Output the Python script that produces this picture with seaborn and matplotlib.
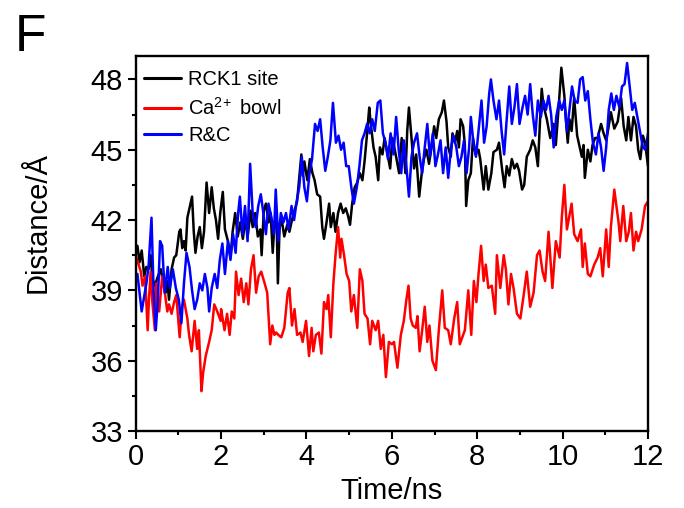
import matplotlib
matplotlib.use('Agg')
import matplotlib.pyplot as plt
from matplotlib.ticker import MultipleLocator
import seaborn as sns

# RCK1 site (black)
rck1_t = [0.00, 0.04, 0.09, 0.14, 0.20, 0.25, 0.30, 0.35, 0.39, 0.45, 0.52, 0.59, 0.64, 0.70, 0.74, 0.78,
          0.84, 0.90, 0.95, 1.02, 1.05, 1.09, 1.13, 1.17, 1.21, 1.27, 1.32, 1.36, 1.40, 1.45, 1.50, 1.55,
          1.60, 1.66, 1.72, 1.78, 1.83, 1.88, 1.93, 1.98,
          2.04, 2.09, 2.16, 2.22, 2.27, 2.33, 2.39, 2.45, 2.51, 2.56, 2.63, 2.69, 2.74, 2.80, 2.86, 2.92,
          2.95, 3.00, 3.05, 3.11, 3.16, 3.21, 3.25, 3.30, 3.33, 3.37, 3.42, 3.48, 3.55, 3.60, 3.66, 3.72,
          3.78, 3.84, 3.88, 3.91, 3.95,
          4.02, 4.08, 4.14, 4.19, 4.25, 4.32, 4.37, 4.41, 4.47, 4.53, 4.57, 4.63, 4.68, 4.74, 4.80, 4.86,
          4.92, 4.97, 5.02, 5.07, 5.13, 5.19, 5.25, 5.31, 5.36, 5.41, 5.47, 5.50, 5.57, 5.62, 5.68, 5.72,
          5.78, 5.83, 5.89, 5.96,
          6.01, 6.09, 6.17, 6.23, 6.28, 6.32, 6.36, 6.40, 6.46, 6.52, 6.57, 6.64, 6.70, 6.75, 6.81, 6.87,
          6.93, 6.99, 7.04, 7.10, 7.17, 7.22, 7.28, 7.32, 7.38, 7.42, 7.48, 7.53, 7.57, 7.61, 7.67, 7.71,
          7.74, 7.79, 7.85, 7.90, 7.96,
          8.03, 8.07, 8.15, 8.20, 8.26, 8.33, 8.38, 8.46, 8.51, 8.58, 8.64, 8.69, 8.75, 8.81, 8.87, 8.93,
          8.98, 9.05, 9.10, 9.16, 9.24, 9.30, 9.36, 9.42, 9.48, 9.51, 9.55, 9.63, 9.71, 9.79, 9.84, 9.91,
          9.97, 10.04, 10.08, 10.12, 10.16, 10.21, 10.27, 10.34, 10.39, 10.45, 10.49, 10.52, 10.59, 10.65,
          10.70, 10.76, 10.82, 10.90, 10.96, 11.02, 11.07, 11.13, 11.21, 11.29, 11.37, 11.43, 11.49, 11.54,
          11.60, 11.66, 11.72, 11.77, 11.82, 11.88, 11.93, 12.00]
rck1_d = [40.6, 40.9, 40.2, 40.7, 39.6, 40.0, 39.9, 40.5, 39.5, 39.2, 39.6, 39.9, 39.3, 38.9, 39.4, 38.6,
          39.9, 40.4, 40.5, 41.5, 41.6, 40.8, 41.1, 40.7, 42.1, 42.6, 43.0, 41.5, 40.6, 41.3, 41.7, 40.8,
          41.5, 43.6, 42.3, 43.4, 42.5, 42.0, 41.2, 42.3,
          43.2, 41.6, 41.1, 40.4, 41.5, 42.3, 41.3, 41.9, 41.2, 41.9, 41.4, 42.4, 41.7, 42.3, 41.3, 41.6,
          40.5, 42.4, 42.7, 41.9, 42.3, 40.6, 41.9, 42.1, 39.3, 41.7, 42.0, 41.3, 41.8, 41.5, 42.0, 42.4,
          42.8, 44.0, 44.8, 43.9, 44.5,
          43.7, 44.6, 44.0, 43.7, 43.1, 43.0, 41.7, 41.2, 41.9, 42.7, 41.7, 42.3, 41.5, 42.3, 42.7, 42.3,
          42.5, 42.2, 41.8, 42.7, 43.4, 43.6, 44.0, 43.7, 44.5, 45.5, 46.8, 46.2, 45.1, 44.7, 43.7, 45.1,
          44.8, 45.5, 44.9, 44.2,
          45.5, 44.8, 44.0, 45.5, 44.8, 44.0, 45.8, 46.8, 45.5, 44.2, 44.8, 43.0, 44.0, 44.6, 45.0, 44.4,
          45.1, 46.0, 45.5, 46.3, 46.6, 47.1, 46.2, 45.1, 44.7, 45.7, 45.3, 45.8, 45.1, 46.3, 46.0, 45.2,
          42.6, 43.7, 44.0, 45.5, 44.8,
          45.0, 44.6, 43.3, 44.3, 43.3, 44.0, 44.9, 45.0, 45.3, 44.2, 43.4, 44.3, 43.9, 44.6, 44.2, 44.4,
          44.1, 43.3, 43.5, 44.7, 45.0, 45.4, 45.1, 44.3, 46.6, 47.6, 46.9, 46.3, 45.5, 46.1, 45.2, 46.9,
          48.5, 47.3, 46.2, 45.3, 46.3, 45.8, 47.2, 45.6, 45.2, 44.7, 45.2, 43.8, 45.0, 44.5,
          45.2, 45.5, 45.5, 46.1, 45.7, 45.4, 45.9, 46.6, 45.9, 46.2, 47.2, 46.0, 45.4, 46.4,
          45.4, 46.4, 46.0, 45.0, 44.6, 45.6, 45.3, 44.3]

# Ca2+ bowl (red)
bowl_t = [0.00, 0.12, 0.16, 0.22, 0.28, 0.31, 0.35, 0.39, 0.45, 0.48, 0.55, 0.62, 0.69, 0.74, 0.78, 0.84,
          0.90, 0.95, 1.03, 1.08, 1.13, 1.21, 1.25, 1.31, 1.38, 1.44, 1.48, 1.54, 1.58, 1.64, 1.72, 1.78,
          1.84, 1.91, 1.99,
          2.00, 2.08, 2.14, 2.20, 2.25, 2.31, 2.35, 2.41, 2.47, 2.53, 2.59, 2.64, 2.70, 2.76, 2.82, 2.88,
          2.94, 3.02, 3.08, 3.15, 3.20, 3.25, 3.29, 3.34, 3.41, 3.48, 3.56, 3.60, 3.66, 3.72, 3.78, 3.86,
          3.91, 3.99,
          4.06, 4.12, 4.16, 4.22, 4.29, 4.35, 4.41, 4.47, 4.51, 4.57, 4.63, 4.68, 4.74, 4.79, 4.82, 4.88,
          4.94, 5.00, 5.05, 5.11, 5.19, 5.25, 5.31, 5.36, 5.43, 5.49, 5.54, 5.62, 5.68, 5.74, 5.80, 5.86,
          5.93, 6.00,
          6.05, 6.13, 6.21, 6.28, 6.34, 6.39, 6.44, 6.49, 6.56, 6.60, 6.65, 6.71, 6.77, 6.83, 6.88, 6.95,
          7.03, 7.10, 7.18, 7.24, 7.32, 7.38, 7.46, 7.53, 7.59, 7.65, 7.71, 7.79, 7.86, 7.92, 7.98, 8.03,
          8.09, 8.15, 8.20, 8.26, 8.34, 8.42, 8.46, 8.54, 8.62, 8.67, 8.73, 8.79, 8.85, 8.93, 9.01, 9.08,
          9.16, 9.24, 9.32, 9.40, 9.46, 9.53, 9.59, 9.67, 9.76, 9.84, 9.93, 9.98, 10.04, 10.10,
          10.21, 10.27, 10.35, 10.43, 10.47, 10.52, 10.59, 10.65, 10.74, 10.82, 10.88, 10.94, 11.02,
          11.08, 11.13, 11.21, 11.31, 11.35, 11.42, 11.49, 11.55, 11.60, 11.66, 11.72, 11.77, 11.85,
          11.93, 12.00]
bowl_d = [40.5, 39.8, 39.2, 39.6, 37.3, 38.6, 39.8, 38.5, 37.3, 39.3, 38.1, 39.6, 38.8, 38.1, 38.4, 38.0,
          38.5, 38.8, 37.0, 38.3, 38.6, 37.8, 37.1, 36.4, 37.7, 36.5, 37.3, 34.7, 35.5, 36.2, 36.8, 37.3,
          38.4, 38.1, 37.7,
          38.2, 37.3, 38.0, 37.1, 38.1, 37.8, 39.8, 38.8, 39.5, 38.5, 39.3, 38.4, 39.9, 40.5, 38.9, 39.6,
          39.8, 39.3, 38.9, 36.7, 37.5, 37.1, 37.2, 37.1, 37.0, 37.4, 38.9, 39.1, 37.5, 38.2, 37.1, 37.2,
          36.8, 37.7,
          36.2, 37.4, 36.4, 37.1, 37.2, 36.3, 38.5, 38.2, 38.8, 37.0, 39.3, 40.5, 41.7, 40.4, 41.2, 40.5,
          39.7, 39.4, 38.1, 38.8, 37.4, 39.9, 39.4, 38.0, 37.8, 36.7, 37.7, 37.3, 37.7, 36.5, 37.1, 35.3,
          36.8, 36.7,
          36.8, 35.7, 37.1, 37.7, 38.6, 39.2, 37.8, 37.5, 37.4, 37.9, 36.4, 37.3, 38.3, 36.8, 37.5, 36.0,
          35.6, 37.3, 39.0, 37.4, 37.3, 36.7, 37.8, 38.5, 36.7, 37.0, 37.3, 39.0, 37.1, 39.4, 38.5, 39.7,
          40.9, 39.4, 40.1, 39.1, 39.2, 38.0, 40.5, 39.1, 40.5, 39.9, 38.4, 39.7, 39.1, 38.0, 37.8, 38.7,
          39.8, 38.3, 38.9, 40.5, 40.7, 39.8, 39.4, 41.5, 39.1, 41.1, 40.4, 42.1, 43.5, 41.6,
          42.7, 41.4, 41.1, 41.6, 40.0, 41.0, 39.7, 39.6, 40.1, 40.4, 40.8, 39.6, 41.6,
          40.0, 41.7, 43.3, 41.9, 41.1, 42.6, 41.1, 41.5, 42.3, 40.7, 41.5, 41.1, 41.6,
          42.6, 42.8]

# R&C (blue)
rc_t = [0.00, 0.04, 0.09, 0.14, 0.25, 0.30, 0.37, 0.42, 0.47, 0.52, 0.57, 0.62, 0.68, 0.75, 0.80, 0.87,
        0.94, 1.01, 1.07, 1.13, 1.19, 1.26, 1.32, 1.38, 1.44, 1.50, 1.56, 1.62, 1.68, 1.72, 1.78, 1.85,
        1.91, 1.97, 2.03, 2.09, 2.16, 2.22, 2.28, 2.34, 2.40, 2.44, 2.50, 2.56, 2.62, 2.68, 2.74, 2.81,
        2.87, 2.93, 2.99, 3.05, 3.11, 3.18, 3.24, 3.28, 3.34, 3.40, 3.46, 3.52, 3.58, 3.65, 3.71, 3.77,
        3.83, 3.89, 3.95, 4.01, 4.07, 4.13, 4.20, 4.26, 4.32, 4.38, 4.44, 4.50, 4.56, 4.62, 4.69, 4.75,
        4.81, 4.87, 4.93, 4.99, 5.05, 5.11, 5.18, 5.24, 5.30, 5.36, 5.42, 5.48, 5.54, 5.60, 5.67, 5.73,
        5.79, 5.85, 5.91, 5.97, 6.04, 6.10, 6.16, 6.22, 6.28, 6.34, 6.40, 6.46, 6.52, 6.59, 6.65, 6.71,
        6.77, 6.83, 6.89, 6.96, 7.02, 7.08, 7.14, 7.20, 7.26, 7.32, 7.38, 7.44, 7.51, 7.57, 7.63, 7.69,
        7.75, 7.81, 7.85, 7.91, 7.97, 8.04, 8.10, 8.16, 8.22, 8.28, 8.32, 8.38, 8.45, 8.51, 8.57, 8.63,
        8.69, 8.75, 8.81, 8.87, 8.93, 8.99, 9.06, 9.12, 9.18, 9.24, 9.30, 9.36, 9.42, 9.49, 9.55, 9.61,
        9.67, 9.73, 9.79, 9.85, 9.92, 9.98, 10.04, 10.10, 10.16, 10.22, 10.28, 10.35, 10.41, 10.47,
        10.53, 10.59, 10.65, 10.71, 10.78, 10.84, 10.90, 10.96, 11.02, 11.08, 11.14, 11.20, 11.26,
        11.33, 11.39, 11.45, 11.51, 11.57, 11.63, 11.69, 11.75, 11.82, 11.88, 11.94, 12.00]
rc_d = [39.4, 39.7, 38.9, 38.1, 39.3, 40.0, 42.1, 38.9, 37.3, 38.6, 41.1, 40.9, 38.9, 40.0, 39.1, 39.9,
        39.1, 38.6, 37.6, 39.3, 40.6, 40.0, 39.0, 38.2, 38.6, 39.3, 39.0, 39.7, 39.1, 38.1, 39.1, 39.7,
        39.1, 40.3, 41.0, 39.7, 41.1, 40.3, 41.4, 40.6, 42.3, 43.0, 41.4, 42.6, 41.1, 44.4, 42.3, 41.7,
        42.6, 43.1, 42.3, 41.4, 42.7, 42.1, 41.4, 43.3, 41.1, 42.3, 41.9, 42.3, 41.6, 42.6, 42.0, 42.8,
        43.4, 44.7, 43.4, 42.8, 44.0, 44.6, 46.1, 45.8, 46.3, 45.1, 44.1, 44.7, 45.4, 47.0, 45.3, 45.6,
        45.0, 45.3, 44.3, 44.3, 43.4, 42.7, 43.4, 44.3, 45.4, 45.7, 46.1, 45.7, 46.3, 45.8, 47.0, 47.1,
        45.7, 45.3, 44.6, 45.7, 44.8, 46.4, 45.0, 44.0, 45.4, 44.3, 43.0, 44.7, 45.3, 45.7, 44.7, 44.0,
        45.1, 46.1, 44.7, 45.7, 44.3, 44.8, 45.4, 44.0, 45.1, 43.8, 45.0, 45.6, 45.1, 44.3, 44.7, 45.4,
        44.0, 45.1, 46.4, 45.3, 44.7, 46.0, 47.1, 45.3, 46.0, 47.4, 48.0, 47.1, 46.3, 47.1, 45.8, 44.8,
        46.3, 47.7, 46.1, 46.8, 47.8, 46.1, 46.8, 47.3, 46.5, 47.8, 46.5, 45.6, 47.1, 46.4, 47.1, 46.7,
        47.3, 46.5, 45.1, 46.4, 47.1, 46.7, 47.1, 45.8, 46.7, 47.7, 47.1, 47.0, 48.0, 48.1,
        47.1, 47.5, 46.3, 45.3, 44.8, 45.7, 45.1, 44.1, 45.1, 46.7, 47.4, 46.7, 47.3,
        46.8, 47.7, 47.8, 48.7, 47.7, 46.7, 47.0, 46.4, 45.7, 45.1, 45.0, 45.7]

series = [('RCK1 site', rck1_t, rck1_d, 'black'),
          ('Ca$^{2\\!+}$ bowl', bowl_t, bowl_d, 'red'),
          ('R&C', rc_t, rc_d, 'blue')]

sns.set_style('ticks')
plt.rcParams['font.family'] = ['Liberation Sans', 'DejaVu Sans']
plt.rcParams['mathtext.default'] = 'regular'
plt.rcParams.update({'text.color': 'black', 'axes.labelcolor': 'black',
                     'xtick.color': 'black', 'ytick.color': 'black'})

fig = plt.figure(figsize=(6.84, 5.08), dpi=100)
ax = fig.add_axes([0.1984, 0.1516, 0.749, 0.7382])

for name, t, d, c in series:
    sns.lineplot(x=t, y=d, color=c, lw=1.8, label=name, estimator=None, sort=False, ax=ax)

ax.set_xlim(0, 12)
ax.set_ylim(33, 49)
ax.set_xticks(range(0, 13, 2))
ax.set_yticks(range(33, 49, 3))
ax.xaxis.set_minor_locator(MultipleLocator(1))
ax.yaxis.set_minor_locator(MultipleLocator(1.5))
ax.tick_params(which='major', direction='out', length=6, width=1.5, labelsize=21, pad=3, colors='black')
ax.tick_params(which='minor', direction='out', length=3, width=1.5, colors='black')
for s in ax.spines.values():
    s.set_linewidth(1.7)
    s.set_color('black')

ax.set_xlabel('Time/ns', fontsize=21)
ax.set_ylabel('Distance/Å', fontsize=21)
ax.xaxis.set_label_coords(0.5, -0.122)
ax.yaxis.set_label_coords(-0.165, 0.557)

leg = ax.legend(loc='upper left', bbox_to_anchor=(-0.012, 1.0), frameon=False, fontsize=14.5,
                handlelength=1.85, handletextpad=0.35, labelspacing=0.38, borderaxespad=0.3)
for line in leg.get_lines():
    line.set_linewidth(2.2)

fig.text(0.022, 0.975, 'F', fontsize=37, va='top', ha='left', color='black')

fig.savefig('out.png', dpi=100)
